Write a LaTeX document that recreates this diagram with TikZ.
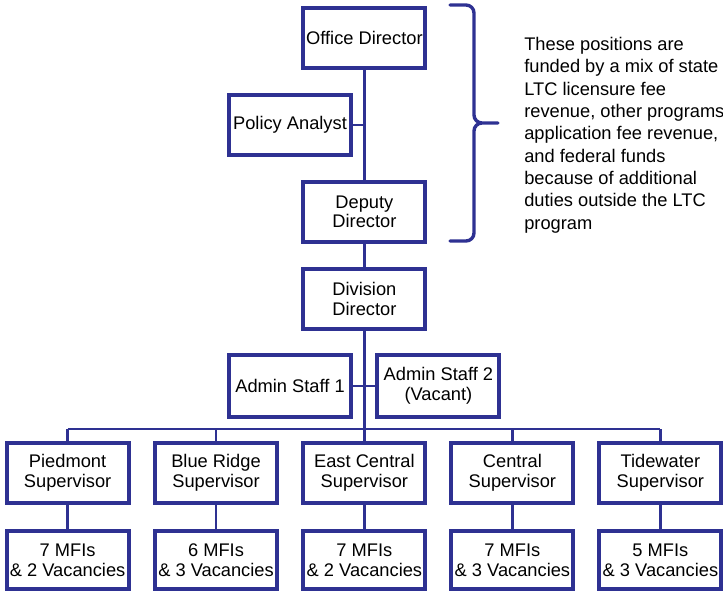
\documentclass[tikz,border=0pt]{standalone}
\usepackage{fontspec}
\setmainfont{Liberation Sans}
\definecolor{orgnavy}{RGB}{46,49,146}
\usepackage{tikz}

\begin{document}
\begin{tikzpicture}[font=\fontsize{13}{14.2}\selectfont,
  postbox/.style={draw=orgnavy, line width=2.8pt, fill=white, align=center,
    minimum width=3.05cm, minimum height=1.5cm, inner sep=1pt},
  link/.style={draw=orgnavy, line width=2.1pt},
  busline/.style={draw=orgnavy, line width=1.7pt},
  bracket/.style={draw=orgnavy, line width=2.4pt, line cap=round}]
\useasboundingbox (0,0) rectangle (18.075,14.775);

% Office (top)
\node[postbox] (office) at (9.11,13.82) {Office Director};
\node[postbox] (policy) at (7.25,11.65) {Policy Analyst};
\node[postbox] (deputy) at (9.11,9.48) {Deputy\\Director};
\draw[link] (office) -- (deputy);
\draw[link] (policy.east) -- (policy.east -| office.south);

% Funding note
\draw[bracket] (11.25,14.65) -- (11.65,14.65) to[out=0,in=90] (11.85,14.45) -- (11.85,11.9)
  to[out=-90,in=180] (12.05,11.7) -- (12.45,11.7)
  (12.05,11.7) to[out=180,in=90] (11.85,11.5) -- (11.85,8.95) to[out=-90,in=0] (11.65,8.75) -- (11.25,8.75);
\node[anchor=north west, align=left, inner sep=0pt, font=\fontsize{13}{15.9}\selectfont] (note) at (13.1,13.85)
  {These positions are\\funded by a mix of state\\LTC licensure fee\\revenue, other programs\\application fee revenue,\\and federal funds\\because of additional\\duties outside the LTC\\program};

% Division
\node[postbox] (division) at (9.11,7.31) {Division\\Director};
\node[postbox, minimum height=1.55cm] (admin1) at (7.25,5.125) {Admin Staff 1};
\node[postbox, minimum height=1.55cm] (admin2) at (10.96,5.125) {Admin Staff 2\\(Vacant)};
\draw[link] (deputy) -- (division);
\draw[link] (admin1.east) -- (admin1.east -| division.south);
\draw[link] (admin2.west) -- (admin2.west -| division.south);

% Regions
\coordinate (bus) at (9.11,4.05);
\foreach \name/\x/\region/\staff in {piedmont/1.69/Piedmont/7 MFIs\\\& 2 Vacancies,
    blueridge/5.40/Blue Ridge/6 MFIs\\\& 3 Vacancies,
    eastcentral/9.11/East Central/7 MFIs\\\& 2 Vacancies,
    central/12.81/Central/7 MFIs\\\& 3 Vacancies,
    tidewater/16.51/Tidewater/5 MFIs\\\& 3 Vacancies} {
  \node[postbox] (\name) at (\x,2.95) {\region\\Supervisor};
  \node[postbox, minimum height=1.45cm] (\name-mfi) at (\x,0.775) {\staff};
  \draw[link] (\name) -- (\name-mfi);
  \draw[link] (\name.north) -- (\name.north |- bus);
}
\draw[busline] (piedmont.north |- bus) -- (tidewater.north |- bus);
\draw[link] (division) -- (bus);
\end{tikzpicture}
\end{document}
